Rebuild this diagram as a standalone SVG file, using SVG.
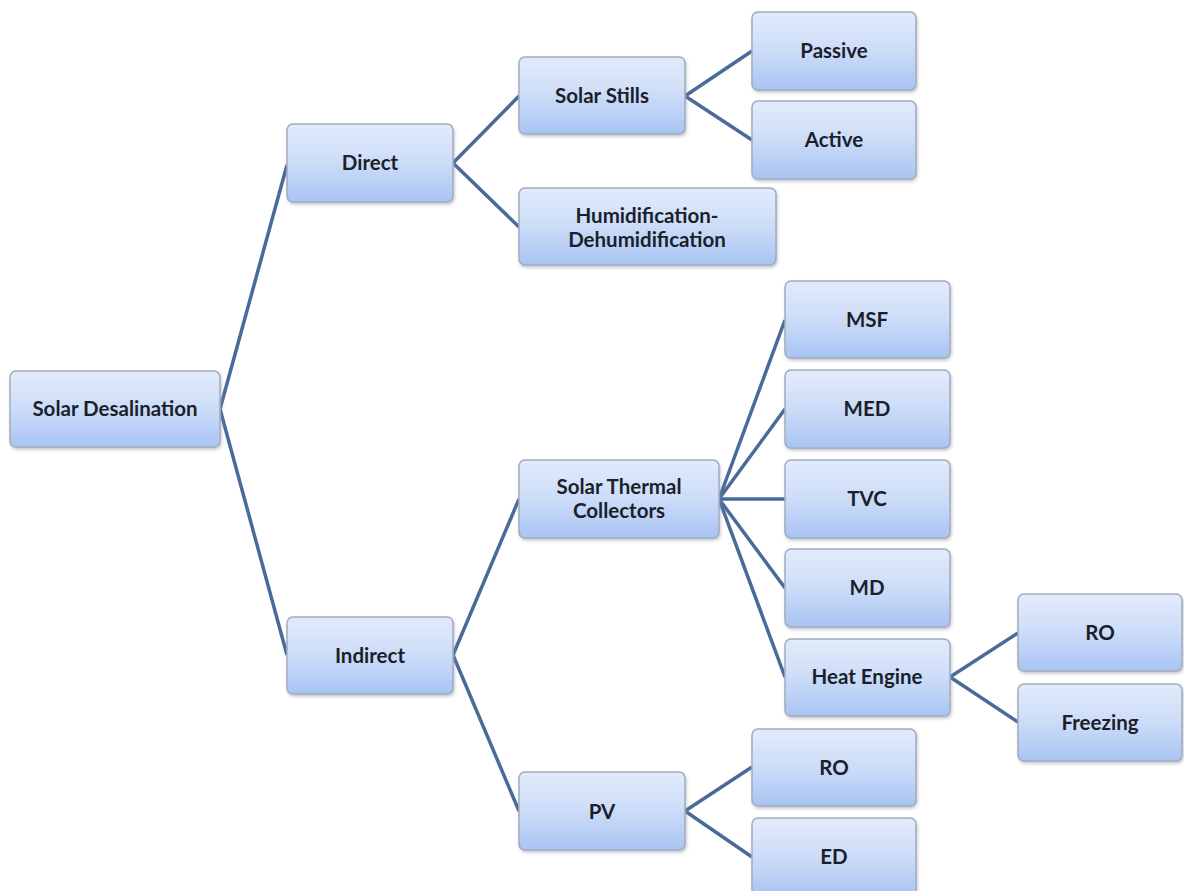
<svg xmlns="http://www.w3.org/2000/svg" width="1184" height="891" viewBox="0 0 1184 891">
  <defs>
    <linearGradient id="boxFill" x1="0" y1="0" x2="0" y2="1">
      <stop offset="0" stop-color="#e3ebfb"/>
      <stop offset="0.5" stop-color="#ccdcf8"/>
      <stop offset="1" stop-color="#a8c4f3"/>
    </linearGradient>
    <filter id="shadow" x="-10%" y="-10%" width="120%" height="130%">
      <feDropShadow dx="1" dy="2" stdDeviation="1.5" flood-color="#8a93a3" flood-opacity="0.5"/>
    </filter>
  </defs>
  <style>
    .box { fill: url(#boxFill); stroke: #a3acbd; stroke-width: 1.5; filter: url(#shadow); }
    .label { font-family: Lato, "Open Sans", "Liberation Sans", sans-serif; font-weight: 700; font-size: 20.5px; fill: #1a1f2b; text-anchor: middle; dominant-baseline: central; }
    .link { fill: none; stroke: #4a6b9a; stroke-width: 3.5; stroke-linejoin: round; }
  </style>
  <rect width="1184" height="891" fill="#ffffff"/>

  <!-- connectors -->
  <g id="connectors" class="link">
    <polyline points="287,165 220,409 287,655"/>
    <polyline points="519,96 453,163 519,227"/>
    <polyline points="752,51 685,96 752,140"/>
    <polyline points="519,499 453,655 519,811"/>
    <line x1="719" y1="499" x2="785" y2="320"/>
    <line x1="719" y1="499" x2="785" y2="409"/>
    <line x1="719" y1="499" x2="785" y2="499"/>
    <line x1="719" y1="499" x2="785" y2="588"/>
    <line x1="719" y1="499" x2="785" y2="677"/>
    <polyline points="1018,633 950,677 1018,722"/>
    <polyline points="752,767 685,811 752,857"/>
  </g>

  <!-- nodes -->
  <g id="solar-desalination">
    <rect class="box" x="10" y="371" width="210" height="76" rx="6"/>
    <text class="label" x="115" y="408">Solar Desalination</text>
  </g>
  <g id="direct">
    <rect class="box" x="287" y="124" width="166" height="78" rx="6"/>
    <text class="label" x="370" y="162">Direct</text>
  </g>
  <g id="indirect">
    <rect class="box" x="287" y="617" width="166" height="77" rx="6"/>
    <text class="label" x="370" y="655">Indirect</text>
  </g>
  <g id="solar-stills">
    <rect class="box" x="519" y="57" width="166" height="77" rx="6"/>
    <text class="label" x="602" y="95">Solar Stills</text>
  </g>
  <g id="humidification">
    <rect class="box" x="519" y="188" width="257" height="77" rx="6"/>
    <text class="label" x="647" y="215">Humidification-</text>
    <text class="label" x="647" y="239">Dehumidification</text>
  </g>
  <g id="passive">
    <rect class="box" x="752" y="12" width="164" height="78" rx="6"/>
    <text class="label" x="834" y="50">Passive</text>
  </g>
  <g id="active">
    <rect class="box" x="752" y="101" width="164" height="78" rx="6"/>
    <text class="label" x="834" y="139">Active</text>
  </g>
  <g id="solar-thermal-collectors">
    <rect class="box" x="519" y="460" width="200" height="78" rx="6"/>
    <text class="label" x="619" y="486">Solar Thermal</text>
    <text class="label" x="619" y="510">Collectors</text>
  </g>
  <g id="pv">
    <rect class="box" x="519" y="772" width="166" height="78" rx="6"/>
    <text class="label" x="602" y="811">PV</text>
  </g>
  <g id="msf">
    <rect class="box" x="785" y="281" width="165" height="77" rx="6"/>
    <text class="label" x="867" y="319">MSF</text>
  </g>
  <g id="med">
    <rect class="box" x="785" y="370" width="165" height="78" rx="6"/>
    <text class="label" x="867" y="408">MED</text>
  </g>
  <g id="tvc">
    <rect class="box" x="785" y="460" width="165" height="78" rx="6"/>
    <text class="label" x="867" y="498">TVC</text>
  </g>
  <g id="md">
    <rect class="box" x="785" y="549" width="165" height="78" rx="6"/>
    <text class="label" x="867" y="587">MD</text>
  </g>
  <g id="heat-engine">
    <rect class="box" x="785" y="639" width="165" height="77" rx="6"/>
    <text class="label" x="867" y="676">Heat Engine</text>
  </g>
  <g id="ro-heat">
    <rect class="box" x="1018" y="594" width="164" height="77" rx="6"/>
    <text class="label" x="1100" y="632">RO</text>
  </g>
  <g id="freezing">
    <rect class="box" x="1018" y="684" width="164" height="77" rx="6"/>
    <text class="label" x="1100" y="722">Freezing</text>
  </g>
  <g id="ro-pv">
    <rect class="box" x="752" y="729" width="164" height="77" rx="6"/>
    <text class="label" x="834" y="767">RO</text>
  </g>
  <g id="ed">
    <rect class="box" x="752" y="818" width="164" height="78" rx="6"/>
    <text class="label" x="834" y="856">ED</text>
  </g>
</svg>
